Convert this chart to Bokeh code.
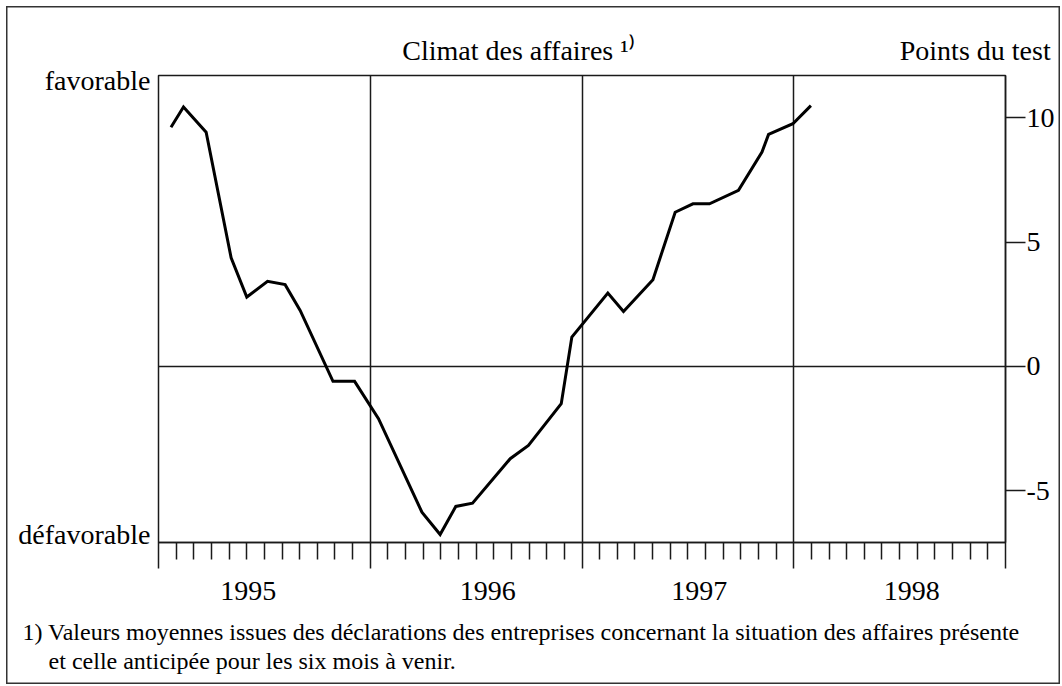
from bokeh.plotting import figure
from bokeh.models import Range1d, FixedTicker, LinearAxis
from bokeh.embed import file_html
from bokeh.resources import INLINE

# ---- data (decimal years, test points) ----
t_years = [1995.059, 1995.118, 1995.225, 1995.343, 1995.417, 1995.515, 1995.598,
           1995.669, 1995.824, 1995.926, 1996.039, 1996.244, 1996.330, 1996.404,
           1996.483, 1996.661, 1996.747, 1996.902, 1996.952, 1997.122, 1997.196,
           1997.335, 1997.440, 1997.524, 1997.602, 1997.739, 1997.850, 1997.881,
           1997.996, 1998.081]
climat = [9.62, 10.43, 9.42, 4.37, 2.79, 3.42, 3.29, 2.25, -0.60, -0.60, -2.10,
          -5.86, -6.76, -5.63, -5.50, -3.71, -3.18, -1.50, 1.18, 2.95, 2.21, 3.49,
          6.20, 6.54, 6.54, 7.08, 8.62, 9.33, 9.76, 10.49]
years = [1995, 1996, 1997, 1998]
year_labels = ["1995", "1996", "1997", "1998"]
year_label_pos = [1995.4236, 1996.555, 1997.5535, 1998.5575]
y_ticks = [-5, 0, 5, 10]
y_tick_labels = ["-5", "0", "5", "10"]
side_pos = [11.506, -6.749]
side_labels = ["favorable", "défavorable"]
top_pos = [1996.7, 1998.857]
top_labels = ["Climat des affaires \u00b9\u207e", "Points du test"]
foot_pos = [[1996.7124], [1995.4425]]
footnote = ["1) Valeurs moyennes issues des déclarations des entreprises concernant la situation des affaires présente",
            "et celle anticipée pour les six mois à venir."]

FONT = "Liberation Serif"
INK = "#1a1a1a"

p = figure(width=1062, height=686, output_backend="svg", toolbar_location=None,
           x_range=Range1d(1995, 1999), y_range=Range1d(-7.08, 11.70),
           y_axis_location="right", min_border_left=158, min_border_right=57,
           min_border_top=75, min_border_bottom=144)
p.title.visible = False
p.styles = {"box-shadow": "inset 2px 2px 0 4px #ffffff, inset 2px 2px 0 5.5px #333333",
            "background-color": "#ffffff"}
p.background_fill_color = "white"
p.border_fill_color = None
p.outline_line_color = INK
p.outline_line_width = 1.5

xa = p.below[0]
ya = p.right[0]

# grid: year boundaries and zero line
p.xgrid.ticker = FixedTicker(ticks=[1996, 1997, 1998])
p.ygrid.ticker = FixedTicker(ticks=[0])
for g in (p.xgrid, p.ygrid):
    g.grid_line_color = INK
    g.grid_line_width = 1.5

# bottom axis: years as major ticks, months as minor ticks (no labels)
months = [y + k / 12 for y in years for k in range(1, 12)]
xa.ticker = FixedTicker(ticks=years + [1999], minor_ticks=months)
xa.major_tick_in = 0
xa.major_tick_out = 26
xa.minor_tick_in = 0
xa.minor_tick_out = 17
xa.major_tick_line_color = INK
xa.minor_tick_line_color = INK
xa.major_tick_line_width = 1.5
xa.minor_tick_line_width = 1.5
xa.axis_line_color = INK
xa.axis_line_width = 1.5
xa.major_label_text_color = None
xa.major_label_text_font_size = "1px"
xa.major_label_standoff = 0

# right axis
ya.ticker = FixedTicker(ticks=y_ticks)
ya.major_label_overrides = dict(zip(y_ticks, y_tick_labels))
ya.major_tick_in = 0
ya.major_tick_out = 20
ya.minor_tick_line_color = None
ya.major_tick_line_color = INK
ya.major_tick_line_width = 1.5
ya.axis_line_color = INK
ya.axis_line_width = 1.5
ya.major_label_standoff = 1
ya.major_label_text_font = FONT
ya.major_label_text_font_size = "28px"
ya.major_label_text_color = "black"

def text_axis(ticks, labels, standoff, size="28px"):
    ax = LinearAxis(ticker=FixedTicker(ticks=ticks),
                    major_label_overrides=dict(zip(ticks, labels)))
    ax.axis_line_color = None
    ax.major_tick_line_color = None
    ax.minor_tick_line_color = None
    ax.major_tick_out = 0
    ax.major_tick_in = 0
    ax.major_label_standoff = standoff
    ax.major_label_text_font = FONT
    ax.major_label_text_font_size = size
    ax.major_label_text_color = "black"
    return ax

# year labels below the month ticks
p.add_layout(text_axis(year_label_pos, year_labels, 13), "below")
# footnote lines
p.add_layout(text_axis(foot_pos[0], footnote[:1], 16, "24px"), "below")
p.add_layout(text_axis(foot_pos[1], footnote[1:], 0, "24px"), "below")
# favorable / défavorable on the left
p.add_layout(text_axis(side_pos, side_labels, 8), "left")
# heading texts above the frame
p.add_layout(text_axis(top_pos, top_labels, 10), "above")

p.line(t_years, climat, line_color="black", line_width=3, line_join="miter")

open("out.html", "w").write(file_html(p, INLINE))
